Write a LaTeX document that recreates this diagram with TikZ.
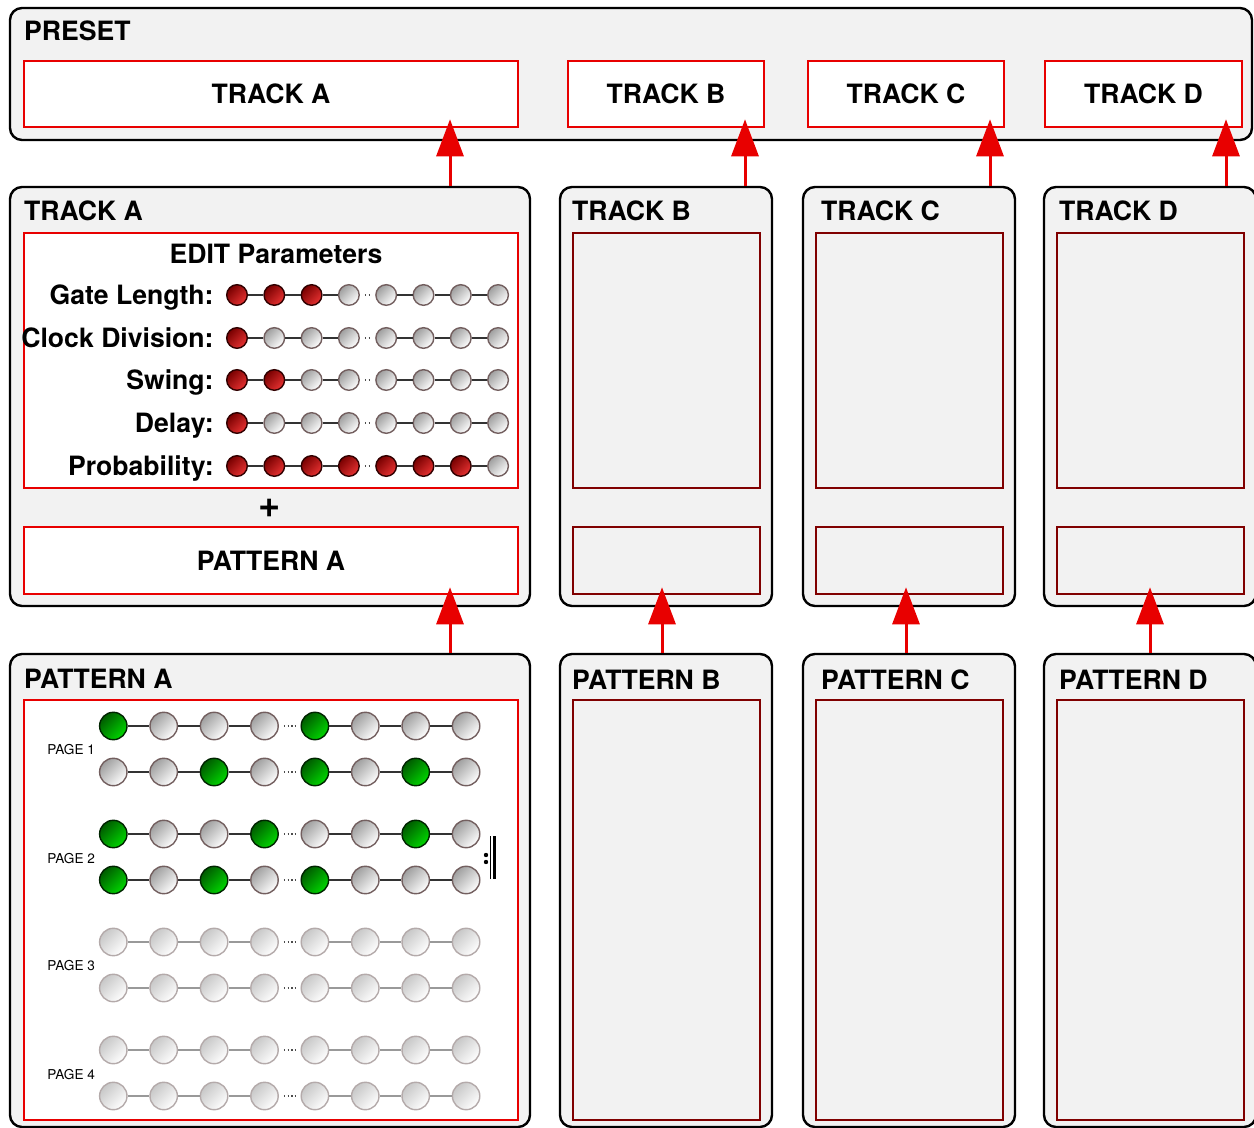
\documentclass[tikz,border=0pt]{standalone}
\usepackage{fontspec}
\setmainfont{TeX Gyre Heros}
\usepackage{tikz}
\usetikzlibrary{arrows.meta}

\definecolor{panel}{HTML}{F2F2F2}
\definecolor{hot}{RGB}{232,0,0}
\definecolor{wine}{RGB}{128,0,0}
\definecolor{rim}{RGB}{115,95,95}
\definecolor{palerim}{RGB}{180,170,170}
\definecolor{emberdark}{RGB}{120,0,0}
\definecolor{ember}{RGB}{232,50,50}
\definecolor{leafdark}{RGB}{0,90,0}
\definecolor{leaf}{RGB}{0,215,0}
\newcommand\hdfont{\fontsize{13.3}{16}\selectfont\bfseries}

\begin{document}
\begin{tikzpicture}[x=0.5pt,y=-0.5pt,
    panelbox/.style={draw=black,line width=1.2pt,fill=panel,rounded corners=6pt,inner sep=0pt},
    slot/.style={draw=hot,line width=1.3pt,fill=white,inner sep=0pt,font=\hdfont},
    ghost/.style={draw=wine,line width=1.3pt,fill=panel,inner sep=0pt},
    title/.style={anchor=base west,inner sep=0pt,font=\hdfont},
    param/.style={anchor=base east,inner sep=0pt,font=\hdfont},
    pagelab/.style={anchor=west,inner sep=0pt,font=\fontsize{6.8}{7}\selectfont},
    link/.style={draw=hot,line width=1.5pt,-{Triangle[width=13.5pt,length=18.5pt]}},
    knob/.style={circle,inner sep=0pt,line width=0.7pt,draw=rim,top color=black!38,bottom color=white,shading angle=45},
    knobpale/.style={knob,draw=palerim,top color=black!22,bottom color=white,shading angle=45},
    knobred/.style={knob,draw=black!60!emberdark,top color=emberdark,bottom color=ember,shading angle=45},
    knobgreen/.style={knob,draw=black!60!leafdark,top color=leafdark,bottom color=leaf,shading angle=45},
    wire/.style={draw=black!80,line width=0.8pt},
    wirepale/.style={draw=black!40,line width=0.8pt},
    gap/.style={draw=black!70,line width=0.9pt,dash pattern=on 0.7pt off 1.1pt,shorten <=2.5pt,shorten >=2.5pt}
  ]
  \useasboundingbox (0,0) rectangle (1254,1128);

  \node[panelbox,minimum width=621pt,minimum height=66pt] (preset) at (631,74) {};
  \node[title] (presettitle) at ([shift={(15,34)}]preset.north west) {PRESET};
  \node[slot,minimum width=247pt,minimum height=33pt] (slotA) at (271,94) {TRACK A};
  \node[slot,minimum width=98pt,minimum height=33pt] (slotB) at (666,94) {TRACK B};
  \node[slot,minimum width=98pt,minimum height=33pt] (slotC) at (906,94) {TRACK C};
  \node[slot,minimum width=98.5pt,minimum height=33pt] (slotD) at (1143.5,94) {TRACK D};

  \node[panelbox,minimum width=260pt,minimum height=209.5pt] (trkA) at (270,396.5) {};
  \node[title] (trkAtitle) at ([shift={(15,35)}]trkA.north west) {TRACK A};
  \node[slot,minimum width=247pt,minimum height=127.5pt] (highA) at (271,360.5) {};
  \node[font=\hdfont,anchor=base,inner sep=0pt] (edithead) at (276,264) {EDIT Parameters};
  \node[font=\fontsize{19}{20}\selectfont\bfseries,inner sep=0pt] (plus) at (270,508) {+};
  \node[slot,minimum width=247pt,minimum height=33.5pt] (lowA) at (271,560.5) {PATTERN A};

  \node[panelbox,minimum width=260pt,minimum height=236.5pt] (patA) at (270,890.5) {};
  \node[title] (patAtitle) at ([shift={(15,36)}]patA.north west) {PATTERN A};
  \node[slot,minimum width=247pt,minimum height=210pt] (pinA) at (271,910) {};

  \foreach \n/\cx/\tx in {B/666/13,C/909/19,D/1150/16}{
    \node[panelbox,minimum width=106pt,minimum height=209.5pt] (trk\n) at (\cx,396.5) {};
    \node[title] (trk\n title) at ([shift={(\tx,35)}]trk\n.north west) {TRACK \n};
    \node[ghost,minimum width=93.5pt,minimum height=127.5pt] (high\n) at (\cx+0.5,360.5) {};
    \node[ghost,minimum width=93.5pt,minimum height=33.5pt] (low\n) at (\cx+0.5,560.5) {};
    \node[panelbox,minimum width=106pt,minimum height=236.5pt] (pat\n) at (\cx,890.5) {};
    \node[title] (pat\n title) at ([shift={(\tx,37)}]pat\n.north west) {PATTERN \n};
    \node[ghost,minimum width=93.5pt,minimum height=210pt] (pin\n) at (\cx+0.5,910) {};
  }

  \foreach \lab/\row/\on [count=\r] in {Gate Length:/295/3,Clock Division:/338/1,Swing:/380/2,Delay:/423/1,Probability:/466/7}{
    \node[param] (lab\r) at (214,\row+10) {\lab};
    \foreach \i in {1,...,8}{
      \ifnum\i>\on \def\st{knob}\else\def\st{knobred}\fi
      \node[\st,minimum size=10.3pt] (e\r-\i) at (237+37.3*\i-37.3,\row) {};
    }
    \foreach \i/\j in {1/2,2/3,3/4,5/6,6/7,7/8}
      \draw[wire] (e\r-\i) -- (e\r-\j);
    \draw[gap] (e\r-4) -- (e\r-5);
  }

  \foreach \row/\flags/\idle/\cord [count=\r] in {
      726/{1,0,0,0,1,0,0,0}/knob/wire,
      772/{0,0,1,0,1,0,1,0}/knob/wire,
      834/{1,0,0,1,0,0,1,0}/knob/wire,
      880/{1,0,1,0,1,0,0,0}/knob/wire,
      942/{0,0,0,0,0,0,0,0}/knobpale/wirepale,
      988/{0,0,0,0,0,0,0,0}/knobpale/wirepale,
      1050/{0,0,0,0,0,0,0,0}/knobpale/wirepale,
      1096/{0,0,0,0,0,0,0,0}/knobpale/wirepale}{
    \foreach \f [count=\i] in \flags{
      \ifnum\f=1 \def\st{knobgreen}\else\edef\st{\idle}\fi
      \node[\st,minimum size=13.7pt] (s\r-\i) at (113.3+50.4*\i-50.4,\row) {};
    }
    \foreach \i/\j in {1/2,2/3,3/4,5/6,6/7,7/8}
      \draw[\cord] (s\r-\i) -- (s\r-\j);
    \draw[gap] (s\r-4) -- (s\r-5);
  }
  \foreach \p/\y in {1/750,2/859,3/966,4/1075}
    \node[pagelab] (page\p) at (47,\y) {PAGE \p};

  \draw[line width=0.6pt] (490.7,836) -- (490.7,879);
  \draw[line width=1.1pt] (494.5,836) -- (494.5,879);
  \fill (486,855) circle (1.1pt) (486,862) circle (1.1pt);

  \foreach \n/\up/\dn in {A/450/450,B/745/662,C/990/906,D/1226/1150}{
    \coordinate (up\n) at (\up,0);
    \coordinate (dn\n) at (\dn,0);
    \draw[link] (trk\n.north -| up\n) -- ([yshift=4.5pt]slot\n.south -| up\n);
    \draw[link] (pat\n.north -| dn\n) -- ([yshift=4pt]low\n.south -| dn\n);
  }
\end{tikzpicture}
\end{document}
